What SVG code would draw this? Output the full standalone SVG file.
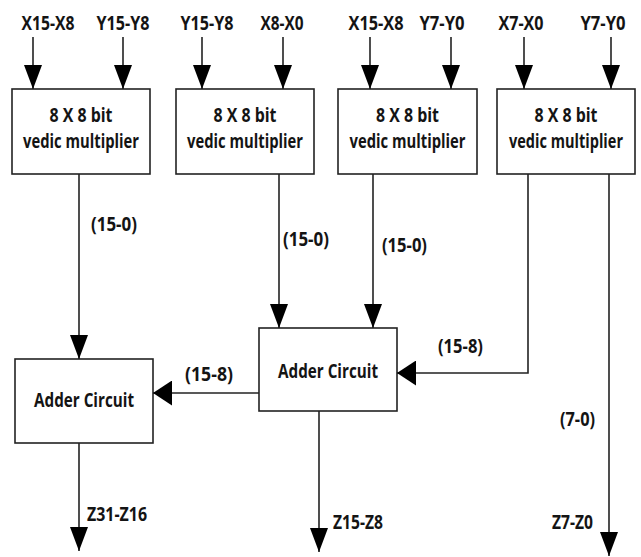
<svg xmlns="http://www.w3.org/2000/svg" width="641" height="557" viewBox="0 0 641 557">
<style>
.box{fill:#fff;stroke:#222;stroke-width:1.6}
.ln{fill:none;stroke:#222;stroke-width:1.6}
.t{font-family:"Open Sans","Liberation Sans",sans-serif;font-weight:700;font-size:19px;fill:#141414;text-anchor:middle}
</style>
<defs>
<marker id="av" markerUnits="userSpaceOnUse" markerWidth="24" markerHeight="18" refX="24" refY="9" orient="auto"><path d="M0,0 L24,9 L0,18 z" fill="#000"/></marker>
<marker id="ah" markerUnits="userSpaceOnUse" markerWidth="19" markerHeight="25" refX="19" refY="12.5" orient="auto"><path d="M0,0 L19,12.5 L0,25 z" fill="#000"/></marker>
</defs>
<rect width="641" height="557" fill="#fff"/>
<g id="inputs">
<text class="t" x="48" y="30" textLength="53" lengthAdjust="spacingAndGlyphs">X15-X8</text>
<text class="t" x="123" y="30" textLength="53" lengthAdjust="spacingAndGlyphs">Y15-Y8</text>
<text class="t" x="207" y="30" textLength="53" lengthAdjust="spacingAndGlyphs">Y15-Y8</text>
<text class="t" x="282" y="30" textLength="43" lengthAdjust="spacingAndGlyphs">X8-X0</text>
<text class="t" x="376" y="30" textLength="55" lengthAdjust="spacingAndGlyphs">X15-X8</text>
<text class="t" x="442" y="30" textLength="45" lengthAdjust="spacingAndGlyphs">Y7-Y0</text>
<text class="t" x="521" y="30" textLength="45" lengthAdjust="spacingAndGlyphs">X7-X0</text>
<text class="t" x="603" y="30" textLength="45" lengthAdjust="spacingAndGlyphs">Y7-Y0</text>
</g>
<g id="mult1">
<rect class="box" x="12" y="89" width="138" height="85"/>
<text class="t" x="81" y="122" textLength="63" lengthAdjust="spacingAndGlyphs">8 X 8 bit</text>
<text class="t" x="81" y="148" textLength="116" lengthAdjust="spacingAndGlyphs">vedic multiplier</text>
</g>
<g id="mult2">
<rect class="box" x="176" y="89" width="138" height="85"/>
<text class="t" x="245" y="122" textLength="63" lengthAdjust="spacingAndGlyphs">8 X 8 bit</text>
<text class="t" x="245" y="148" textLength="116" lengthAdjust="spacingAndGlyphs">vedic multiplier</text>
</g>
<g id="mult3">
<rect class="box" x="338" y="89" width="139" height="85"/>
<text class="t" x="407.5" y="122" textLength="63" lengthAdjust="spacingAndGlyphs">8 X 8 bit</text>
<text class="t" x="407.5" y="148" textLength="116" lengthAdjust="spacingAndGlyphs">vedic multiplier</text>
</g>
<g id="mult4">
<rect class="box" x="497" y="89" width="138" height="85"/>
<text class="t" x="566" y="122" textLength="63" lengthAdjust="spacingAndGlyphs">8 X 8 bit</text>
<text class="t" x="566" y="148" textLength="114" lengthAdjust="spacingAndGlyphs">vedic multiplier</text>
</g>
<g id="adder1">
<rect class="box" x="15" y="359" width="138" height="84"/>
<text class="t" x="84" y="407" textLength="100" lengthAdjust="spacingAndGlyphs">Adder Circuit</text>
</g>
<g id="adder2">
<rect class="box" x="259" y="328" width="138" height="83"/>
<text class="t" x="328" y="378" textLength="100" lengthAdjust="spacingAndGlyphs">Adder Circuit</text>
</g>
<g id="connectors">
<line class="ln" x1="33" y1="37" x2="33" y2="89" marker-end="url(#av)"/>
<line class="ln" x1="123" y1="37" x2="123" y2="89" marker-end="url(#av)"/>
<line class="ln" x1="202" y1="37" x2="202" y2="89" marker-end="url(#av)"/>
<line class="ln" x1="283" y1="37" x2="283" y2="89" marker-end="url(#av)"/>
<line class="ln" x1="370" y1="37" x2="370" y2="89" marker-end="url(#av)"/>
<line class="ln" x1="451" y1="37" x2="451" y2="89" marker-end="url(#av)"/>
<line class="ln" x1="524" y1="37" x2="524" y2="89" marker-end="url(#av)"/>
<line class="ln" x1="611" y1="37" x2="611" y2="89" marker-end="url(#av)"/>
<line class="ln" x1="79" y1="174" x2="79" y2="359" marker-end="url(#av)"/>
<line class="ln" x1="279" y1="174" x2="279" y2="328" marker-end="url(#av)"/>
<line class="ln" x1="373" y1="174" x2="373" y2="328" marker-end="url(#av)"/>
<polyline class="ln" points="528,174 528,373 397,373" marker-end="url(#ah)"/>
<line class="ln" x1="259" y1="393" x2="153" y2="393" marker-end="url(#ah)"/>
<line class="ln" x1="79" y1="443" x2="79" y2="551" marker-end="url(#av)"/>
<line class="ln" x1="319" y1="411" x2="319" y2="552" marker-end="url(#av)"/>
<line class="ln" x1="609" y1="174" x2="609" y2="556" marker-end="url(#av)"/>
<text class="t" x="114" y="231" textLength="46" lengthAdjust="spacingAndGlyphs">(15-0)</text>
<text class="t" x="306" y="246" textLength="46" lengthAdjust="spacingAndGlyphs">(15-0)</text>
<text class="t" x="404.5" y="252" textLength="45" lengthAdjust="spacingAndGlyphs">(15-0)</text>
<text class="t" x="209" y="381" textLength="48" lengthAdjust="spacingAndGlyphs">(15-8)</text>
<text class="t" x="460.5" y="353" textLength="45" lengthAdjust="spacingAndGlyphs">(15-8)</text>
<text class="t" x="577.5" y="426" textLength="35" lengthAdjust="spacingAndGlyphs">(7-0)</text>
<text class="t" x="117" y="521" textLength="60" lengthAdjust="spacingAndGlyphs">Z31-Z16</text>
<text class="t" x="358" y="529" textLength="50" lengthAdjust="spacingAndGlyphs">Z15-Z8</text>
<text class="t" x="572.5" y="529" textLength="41" lengthAdjust="spacingAndGlyphs">Z7-Z0</text>
</g>
</svg>
